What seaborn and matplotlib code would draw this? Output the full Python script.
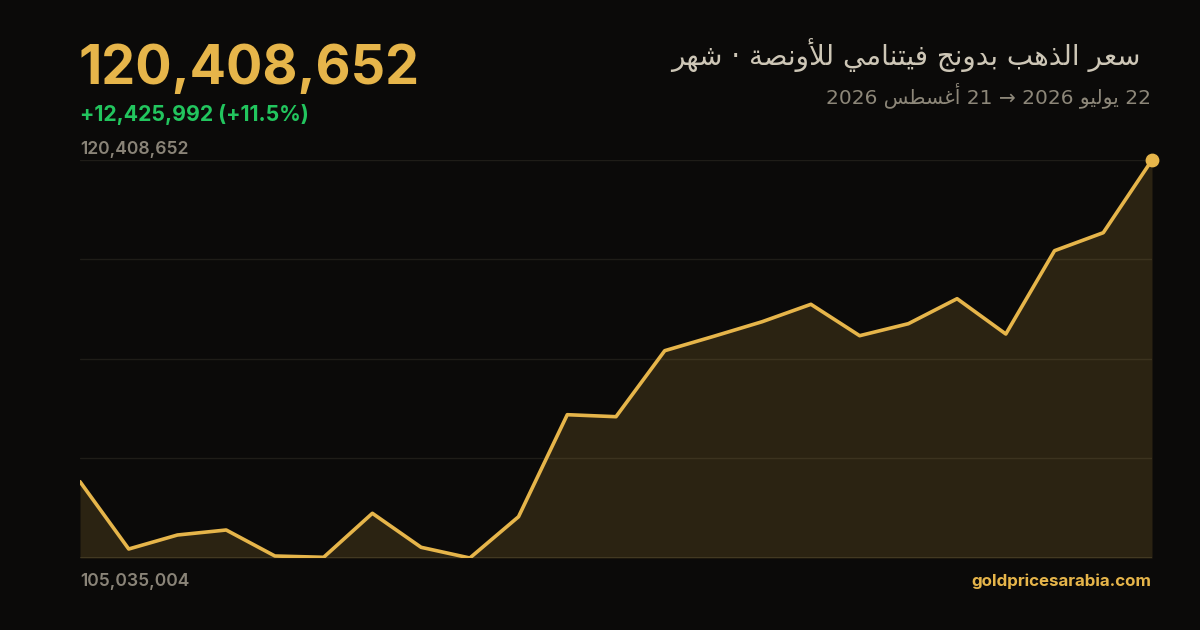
import numpy as np
import pandas as pd
import matplotlib
matplotlib.use("Agg")
import matplotlib.pyplot as plt
import seaborn as sns

# ---------------- data ----------------
day_index = list(range(23))
prices = [107982660, 105382650, 105923430, 106116570, 105112260, 105062040,
          106761640, 105448320, 105035004, 106630310, 110570300, 110493040,
          113042440, 113594800, 114162630, 114834750, 113621850, 114085370,
          115051060, 113687520, 116905170, 117600460, 120408652]
title_text = "سعر الذهب بدونج فيتنامي للأونصة · شهر"
date_text = "22 يوليو 2026 → 21 أغسطس 2026"
last_label = "120,408,652"
change_label = "+12,425,992 (+11.5%)"
max_label = "120,408,652"
min_label = "105,035,004"
site_label = "goldpricesarabia.com"

# ---------------- minimal Arabic shaping (for display) ----------------
FORMS = {
    'ا': (0xFE8D, 0xFE8E, None, None), 'أ': (0xFE83, 0xFE84, None, None),
    'ب': (0xFE8F, 0xFE90, 0xFE91, 0xFE92), 'ة': (0xFE93, 0xFE94, None, None),
    'ت': (0xFE95, 0xFE96, 0xFE97, 0xFE98), 'ج': (0xFE9D, 0xFE9E, 0xFE9F, 0xFEA0),
    'د': (0xFEA9, 0xFEAA, None, None), 'ذ': (0xFEAB, 0xFEAC, None, None),
    'ر': (0xFEAD, 0xFEAE, None, None), 'س': (0xFEB1, 0xFEB2, 0xFEB3, 0xFEB4),
    'ش': (0xFEB5, 0xFEB6, 0xFEB7, 0xFEB8), 'ص': (0xFEB9, 0xFEBA, 0xFEBB, 0xFEBC),
    'ط': (0xFEC1, 0xFEC2, 0xFEC3, 0xFEC4), 'ع': (0xFEC9, 0xFECA, 0xFECB, 0xFECC),
    'غ': (0xFECD, 0xFECE, 0xFECF, 0xFED0), 'ف': (0xFED1, 0xFED2, 0xFED3, 0xFED4),
    'ل': (0xFEDD, 0xFEDE, 0xFEDF, 0xFEE0), 'م': (0xFEE1, 0xFEE2, 0xFEE3, 0xFEE4),
    'ن': (0xFEE5, 0xFEE6, 0xFEE7, 0xFEE8), 'ه': (0xFEE9, 0xFEEA, 0xFEEB, 0xFEEC),
    'و': (0xFEED, 0xFEEE, None, None), 'ي': (0xFEF1, 0xFEF2, 0xFEF3, 0xFEF4),
    'لا': (0xFEFB, 0xFEFC, None, None), 'لأ': (0xFEF7, 0xFEF8, None, None),
}


def shape_word(word):
    units = []
    i = 0
    while i < len(word):
        if word[i] == 'ل' and i + 1 < len(word) and word[i + 1] in 'اأ':
            units.append(word[i:i + 2]); i += 2
        else:
            units.append(word[i]); i += 1
    out = []
    for k, u in enumerate(units):
        if u not in FORMS:
            out.append(u); continue
        f = FORMS[u]
        prev = units[k - 1] if k > 0 else None
        nxt = units[k + 1] if k + 1 < len(units) else None
        jp = prev in FORMS and FORMS[prev][2] is not None
        jn = f[2] is not None and nxt in FORMS
        if jp and jn:
            c = f[3]
        elif jp:
            c = f[1]
        elif jn:
            c = f[2]
        else:
            c = f[0]
        out.append(chr(c))
    return ''.join(reversed(out))


def rtl(text):
    toks = text.split(' ')
    vis = []
    for t in toks:
        if any('\u0600' <= ch <= '\u06FF' for ch in t):
            vis.append(shape_word(t))
        else:
            vis.append(t)
    return ' '.join(reversed(vis))

# ---------------- style ----------------
BG = "#0b0a09"
GOLD = "#e6b54a"
GRID = "#1f1d18"
sns.set_theme(style="dark")
plt.rcParams['font.family'] = ['Inter', 'DejaVu Sans']

W, H = 1200, 630
fig = plt.figure(figsize=(12, 6.3), dpi=100, facecolor=BG)
ax = fig.add_axes([80 / W, 1 - 558 / H, 1072 / W, 398 / H])
ax.set_facecolor(BG)

df = pd.DataFrame({"day": day_index, "price": prices})
ymin, ymax = min(prices), max(prices)
for gy in np.linspace(ymin, ymax, 5):
    ax.axhline(gy, color=GRID, lw=1, zorder=0)
ax.axhline(ymin, color="#2c2920", lw=1.2, zorder=0)

ax.fill_between(df["day"], df["price"], ymin, color=GOLD, alpha=0.15, lw=0, zorder=1)
sns.lineplot(data=df, x="day", y="price", ax=ax, color=GOLD, lw=2.6, zorder=3)
ax.scatter([day_index[-1]], [prices[-1]], s=80, color=GOLD, zorder=4, clip_on=False)

ax.set_xlim(0, 22)
ax.set_ylim(ymin, ymax)
ax.set_xlabel(""); ax.set_ylabel("")
ax.set_xticks([]); ax.set_yticks([])
ax.grid(False)
for s in ax.spines.values():
    s.set_visible(False)


def px(x, y):
    return x / W, 1 - y / H

fig.text(*px(79, 84), last_label, color=GOLD, fontsize=38.8, fontweight='bold',
         ha='left', va='baseline')
fig.text(*px(80, 121), change_label, color="#22c55e", fontsize=15.3, fontweight='bold',
         ha='left', va='baseline')
fig.text(*px(80, 154), max_label, color="#8a8478", fontsize=12.6, fontweight='semibold',
         ha='left', va='baseline')
fig.text(*px(80, 586), min_label, color="#8a8478", fontsize=12.6, fontweight='semibold',
         ha='left', va='baseline')
fig.text(*px(1151, 586), site_label, color=GOLD, fontsize=12.2, fontweight='bold',
         ha='right', va='baseline')
fig.text(*px(1140, 65), rtl(title_text), color="#cdc6b6", fontsize=20,
         family=['DejaVu Sans'], ha='right', va='baseline')
fig.text(*px(1151, 103), rtl(date_text), color="#8d8779", fontsize=14.5,
         family=['DejaVu Sans'], ha='right', va='baseline')

fig.savefig("out.png", dpi=100, facecolor=BG)
